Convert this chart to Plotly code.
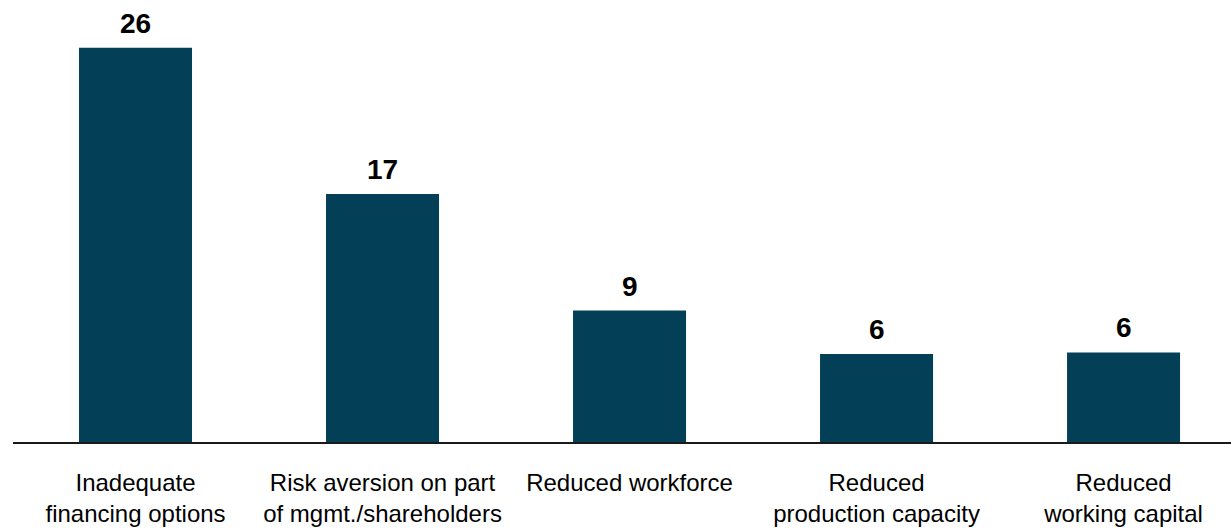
import plotly.graph_objects as go

categories = [
    "Inadequate<br>financing options",
    "Risk aversion on part<br>of mgmt./shareholders",
    "Reduced workforce",
    "Reduced<br>production capacity",
    "Reduced<br>working capital",
]
values = [26.4, 16.6, 8.8, 5.9, 6.0]
labels = ["26", "17", "9", "6", "6"]

BAR_COLOR = "#033F57"
FONT = "Liberation Sans, Arial, sans-serif"

x_pos = list(range(len(categories)))

fig = go.Figure(
    go.Bar(
        x=x_pos,
        y=values,
        width=0.4575,
        marker=dict(color=BAR_COLOR, line=dict(width=0)),
        hoverinfo="skip",
    )
)

for xi, v, lab in zip(x_pos, values, labels):
    fig.add_annotation(
        x=xi, y=v, text=lab, showarrow=False,
        xanchor="center", yanchor="bottom", yshift=7,
        font=dict(family=FONT, size=28, color="#000000", weight="bold"),
    )

fig.update_layout(
    width=1231,
    height=532,
    margin=dict(l=13, r=0, t=0, b=90, autoexpand=False),
    paper_bgcolor="white",
    plot_bgcolor="white",
    showlegend=False,
    xaxis=dict(
        range=[-0.496, 4.435],
        tickmode="array",
        tickvals=x_pos,
        ticktext=categories,
        tickangle=0,
        automargin=False,
        ticklabelstandoff=18,
        tickfont=dict(family=FONT, size=24, color="#000000"),
        showgrid=False,
        zeroline=False,
        showline=True,
        linecolor="#1a1a1a",
        linewidth=2,
        ticks="",
    ),
    yaxis=dict(
        range=[0, 29.6],
        visible=False,
        showgrid=False,
        zeroline=False,
        automargin=False,
    ),
)

fig.write_html("out.html")
